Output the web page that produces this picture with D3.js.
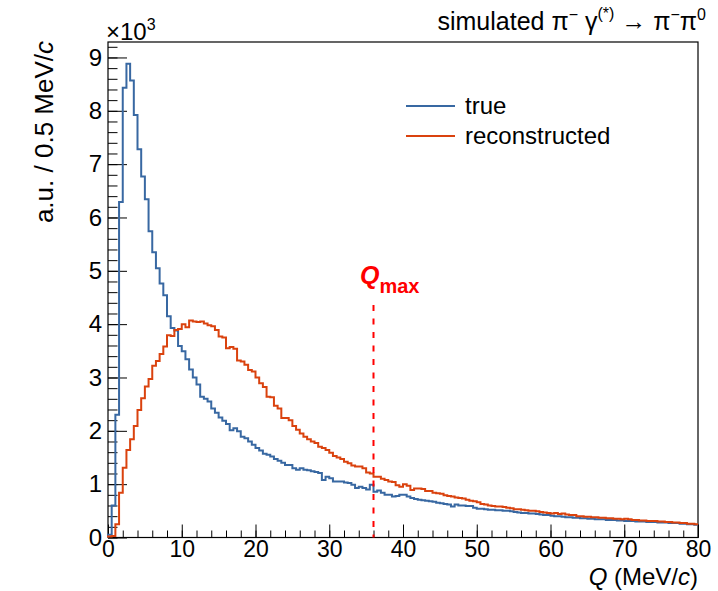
<!DOCTYPE html>
<html>
<head>
<meta charset="utf-8">
<script src="https://cdn.jsdelivr.net/npm/d3@7"></script>
<style>
  body { margin: 0; background: #fff; }
  text { font-family: "Liberation Sans", Arial, Helvetica, sans-serif; fill: #000; }
</style>
</head>
<body>
<svg id="chart" width="718" height="591"></svg>
<script>
// bin width 0.5 MeV/c, 160 bins from 0 to 80, values in units of 10^3
const binWidth = 0.5;
const trueVals = [
  0.05, 0.6, 2.3, 6.29, 8.43, 8.88, 8.57, 7.92, 7.28, 6.77,
  6.34, 5.74, 5.35, 5.05, 4.76, 4.54, 4.15, 3.93, 3.88, 3.59,
  3.49, 3.34, 3.15, 3.0, 2.87, 2.64, 2.60, 2.55, 2.42, 2.34,
  2.25, 2.19, 2.13, 2.01, 2.05, 1.99, 1.89, 1.86, 1.80, 1.74,
  1.68, 1.63, 1.57, 1.55, 1.52, 1.47, 1.44, 1.40, 1.36, 1.36,
  1.30, 1.27, 1.30, 1.27, 1.26, 1.24, 1.23, 1.21, 1.08, 1.14,
  1.11, 1.05, 1.05, 1.05, 1.03, 1.02, 0.99, 0.93, 0.95, 0.93,
  0.90, 0.99, 0.86, 0.88, 0.84, 0.80, 0.80, 0.77, 0.78, 0.80,
  0.80, 0.77, 0.74, 0.72, 0.71, 0.70, 0.69, 0.68, 0.67, 0.65,
  0.64, 0.63, 0.62, 0.58, 0.62, 0.60, 0.60, 0.59, 0.59, 0.56,
  0.54, 0.54, 0.53, 0.52, 0.52, 0.51, 0.51, 0.50, 0.50, 0.49,
  0.48, 0.47, 0.46, 0.46, 0.45, 0.45, 0.44, 0.43, 0.42, 0.42,
  0.41, 0.40, 0.40, 0.39, 0.38, 0.38, 0.37, 0.37, 0.36, 0.36,
  0.35, 0.35, 0.34, 0.34, 0.34, 0.33, 0.33, 0.33, 0.32, 0.32,
  0.31, 0.31, 0.31, 0.30, 0.30, 0.30, 0.29, 0.29, 0.29, 0.28,
  0.28, 0.28, 0.27, 0.27, 0.27, 0.26, 0.26, 0.25, 0.25, 0.24
];
const recoVals = [
  0.02, 0.03, 0.25, 0.84, 1.31, 1.64, 1.84, 2.09, 2.39, 2.61,
  2.83, 2.97, 3.22, 3.31, 3.44, 3.58, 3.79, 3.78, 3.89, 3.91,
  4.00, 3.94, 4.07, 4.05, 4.04, 4.05, 4.01, 3.98, 3.96, 3.89,
  3.77, 3.75, 3.55, 3.57, 3.54, 3.32, 3.30, 3.24, 3.14, 3.11,
  3.00, 2.89, 2.82, 2.64, 2.63, 2.47, 2.42, 2.24, 2.24, 2.20,
  2.09, 2.02, 1.95, 1.89, 1.84, 1.80, 1.77, 1.70, 1.68, 1.64,
  1.59, 1.53, 1.50, 1.47, 1.42, 1.39, 1.35, 1.33, 1.33, 1.30,
  1.22, 1.20, 1.14, 1.14, 1.10, 1.08, 1.05, 1.04, 0.98, 0.95,
  1.00, 0.97, 0.89, 0.92, 0.92, 0.91, 0.87, 0.87, 0.84, 0.83,
  0.82, 0.79, 0.78, 0.77, 0.75, 0.74, 0.73, 0.71, 0.69, 0.68,
  0.66, 0.63, 0.62, 0.60, 0.59, 0.58, 0.58, 0.57, 0.56, 0.55,
  0.53, 0.53, 0.52, 0.51, 0.50, 0.50, 0.49, 0.48, 0.47, 0.46,
  0.45, 0.46, 0.44, 0.45, 0.43, 0.42, 0.42, 0.40, 0.40, 0.39,
  0.39, 0.38, 0.38, 0.37, 0.37, 0.36, 0.36, 0.35, 0.35, 0.34,
  0.35, 0.34, 0.33, 0.33, 0.32, 0.32, 0.31, 0.31, 0.31, 0.30,
  0.30, 0.29, 0.29, 0.28, 0.28, 0.27, 0.27, 0.26, 0.26, 0.25
];
const xTicks = [0, 10, 20, 30, 40, 50, 60, 70, 80];
const yTicks = [0, 1, 2, 3, 4, 5, 6, 7, 8, 9];
const qMax = 36;
const legendItems = ['true', 'reconstructed'];
const colors = ['#3868a2', '#da420e'];

const svg = d3.select('#chart');
const [padL, padR, padT, padB] = [108, 698, 42, 537.5];

const x = d3.scaleLinear().domain([0, 80]).range([padL, padR]);
const y = d3.scaleLinear().domain([0, 9.29]).range([padB, padT]);

// minor ticks
svg.append('g')
    .attr('transform', `translate(0,${padB})`)
    .call(d3.axisBottom(x).tickValues(d3.range(0, 81, 2)).tickSize(-7).tickFormat(''))
    .call(g => g.select('.domain').remove());
svg.append('g')
    .attr('transform', `translate(${padL},0)`)
    .call(d3.axisLeft(y).tickValues(d3.range(0, 47).map(d => d * 0.2)).tickSize(-9.5).tickFormat(''))
    .call(g => g.select('.domain').remove());

// major ticks + labels
const xAxis = svg.append('g')
    .attr('transform', `translate(0,${padB})`)
    .call(d3.axisBottom(x).tickValues(xTicks).tickSize(-13).tickPadding(3).tickFormat(d3.format('d')));
xAxis.select('.domain').remove();
xAxis.selectAll('text').attr('font-size', 23).style('font-family', '"Liberation Sans", Arial, sans-serif');

const yAxis = svg.append('g')
    .attr('transform', `translate(${padL},0)`)
    .call(d3.axisLeft(y).tickValues(yTicks).tickSize(-19).tickPadding(6).tickFormat(d3.format('d')));
yAxis.select('.domain').remove();
yAxis.selectAll('text').attr('font-size', 24).style('font-family', '"Liberation Sans", Arial, sans-serif');

svg.selectAll('.tick line').attr('stroke', '#000').attr('stroke-width', 1);

// frame
svg.append('rect')
    .attr('x', padL).attr('y', padT)
    .attr('width', padR - padL).attr('height', padB - padT)
    .attr('fill', 'none').attr('stroke', '#000').attr('stroke-width', 1.2);

// histograms as step outlines
function stepPath(vals) {
    const p = d3.path();
    p.moveTo(x(0), y(0));
    vals.forEach((v, i) => {
        p.lineTo(x(i * binWidth), y(v));
        p.lineTo(x((i + 1) * binWidth), y(v));
    });
    return p.toString();
}
[trueVals, recoVals].forEach((vals, k) => {
    svg.append('path')
        .attr('d', stepPath(vals))
        .attr('fill', 'none')
        .attr('stroke', colors[k])
        .attr('stroke-width', 2);
});

// Q_max marker
svg.append('line')
    .attr('x1', x(qMax)).attr('x2', x(qMax))
    .attr('y1', 305).attr('y2', padB)
    .attr('stroke', '#ff0000').attr('stroke-width', 2)
    .attr('stroke-dasharray', '6,7.5');
const qm = svg.append('text').attr('x', 360).attr('y', 284).style('fill', '#ff0000').attr('font-weight', 'bold');
qm.append('tspan').attr('font-size', 25).attr('font-style', 'italic').text('Q');
qm.append('tspan').attr('font-size', 20).attr('dy', 9).text('max');

// legend
legendItems.forEach((name, i) => {
    const ly = 106 + i * 30;
    svg.append('line')
        .attr('x1', 406).attr('x2', 455).attr('y1', ly).attr('y2', ly)
        .attr('stroke', colors[i]).attr('stroke-width', 2);
    svg.append('text').attr('x', 465).attr('y', ly + 8).attr('font-size', 24).text(name);
});

// exponent
const ex = svg.append('text').attr('x', 106).attr('y', 40).attr('font-size', 24);
ex.append('tspan').text('\u00d710');
ex.append('tspan').attr('font-size', 16).attr('dy', -10).text('3');

// axis titles
const yt = svg.append('text')
    .attr('transform', 'translate(53,41) rotate(-90)')
    .attr('text-anchor', 'end').attr('font-size', 26);
yt.append('tspan').text('a.u. / 0.5 MeV/');
yt.append('tspan').attr('font-style', 'italic').text('c');

const xt = svg.append('text')
    .attr('x', padR).attr('y', 585)
    .attr('text-anchor', 'end').attr('font-size', 24);
xt.append('tspan').attr('font-style', 'italic').text('Q');
xt.append('tspan').text(' (MeV/');
xt.append('tspan').attr('font-style', 'italic').text('c');
xt.append('tspan').text(')');

// header
const hd = svg.append('text').attr('x', 706).attr('y', 30).attr('text-anchor', 'end').attr('font-size', 25);
hd.append('tspan').text('simulated \u03c0');
hd.append('tspan').attr('font-size', 16).attr('dy', -10).text('\u2212');
hd.append('tspan').attr('dy', 10).text(' \u03b3');
hd.append('tspan').attr('font-size', 16).attr('dy', -11).text('(*)');
hd.append('tspan').attr('dy', 11).text(' \u2192 \u03c0');
hd.append('tspan').attr('font-size', 16).attr('dy', -10).text('\u2212');
hd.append('tspan').attr('dy', 10).text('\u03c0');
hd.append('tspan').attr('font-size', 16).attr('dy', -10).text('0');
</script>
</body>
</html>
